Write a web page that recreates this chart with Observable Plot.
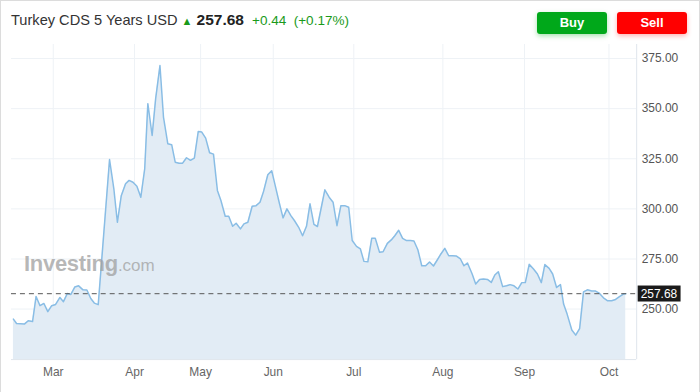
<!DOCTYPE html>
<html>
<head>
<meta charset="utf-8">
<script src="https://cdn.jsdelivr.net/npm/d3@7"></script>
<script src="https://cdn.jsdelivr.net/npm/@observablehq/plot@0.6"></script>
<style>
  html, body { margin: 0; padding: 0; background: #fff; }
  #wrap { position: relative; width: 700px; height: 392px; box-sizing: border-box;
          border: 1px solid #dcdcdc; border-bottom: none; overflow: hidden;
          font-family: "Liberation Sans", Arial, sans-serif; }
  #header { position: absolute; left: 0; top: 0; width: 700px; height: 44px; }
  #title { position: absolute; left: 10px; top: 10px; font-size: 14.6px; color: #333; white-space: nowrap; }
  #title .last { font-weight: bold; color: #222; font-size: 15.5px; }
  #title .chg { color: #1a9a1a; font-size: 13.5px; }
  #title .arrow { color: #1a9a1a; font-size: 11px; }
  .btn { position: absolute; top: 11px; height: 22px; width: 70px; border-radius: 3px; color: #fff;
         font-weight: bold; font-size: 13px; text-align: center; line-height: 22px; }
  #buy { left: 536px; background: #00a81a; box-shadow: 0 2px 5px rgba(0,168,26,0.35); }
  #sell { left: 616px; background: #ff0000; box-shadow: 0 2px 5px rgba(255,0,0,0.3); }
  #chart { position: absolute; left: -1px; top: 43px; }
  #wm { position: absolute; left: 23px; top: 250px; color: rgba(160,160,160,0.75); white-space: nowrap; }
  #wm .a { font-size: 22px; font-weight: bold; letter-spacing: -0.3px; }
  #wm .b { font-size: 17px; }
</style>
</head>
<body>
<div id="wrap">
  <div id="header">
    <div id="title">Turkey CDS 5 Years USD <span class="arrow">&#9650;</span> <span class="last">257.68</span>&nbsp; <span class="chg">+0.44&nbsp; (+0.17%)</span></div>
    <div class="btn" id="buy">Buy</div>
    <div class="btn" id="sell">Sell</div>
  </div>
  <div id="chart"></div>
  <div id="wm"><span class="a">Investing</span><span class="b">.com</span></div>
</div>
<script>
const sessions = [0,0.8,2.8,3.8,4.9,5.8,6.8,7.8,8.8,9.8,10.8,11.9,12.8,13.8,14.7,15.7,16.7,17.8,18.8,19.8,20.7,21.7,
  24.6,25.7,26.6,27.6,28.7,29.6,30.6,31.6,32.6,33.6,34.4,35.5,36.4,37.5,38.4,39.5,40.5,41.4,42.4,43.3,44.3,45.3,46.3,
  47.3,48.2,49.2,50.2,51.2,52.2,53.1,54.2,55.1,56.1,57.0,58.1,59.0,60.0,61.1,62.1,63.1,64.0,65.1,66.1,67.0,68.0,69.0,
  70.0,71.0,71.9,73.0,74.0,75.0,75.9,76.9,77.8,78.8,79.7,80.8,81.8,82.8,83.8,84.8,85.8,86.7,87.8,88.8,89.7,90.7,91.7,
  92.6,93.7,94.6,95.7,96.7,97.6,98.6,99.6,100.6,101.6,102.5,103.5,104.5,105.5,106.5,107.5,108.5,109.4,110.4,111.4,
  112.4,113.3,114.4,115.3,116.2,117.4,118.3,119.3,120.3,121.3,122.3,123.2,124.1,125.2,126.2,127.1,128.1,129.1,130.1,
  131.0,132.0,133.1,134.1,135.1,136.0,137.1,138.0,139.0,140.0,140.8,141.7,142.9,143.9,144.9,145.9,146.9,148.0,149.0,
  150.0,151.0,152.0,153.1,154.1,155.1,156.1,156.7];
const cds = [245.0,242.8,242.5,244.2,243.8,256.3,251.7,252.8,248.7,251.7,252.3,255.8,253.7,257.8,257.3,261.0,261.6,259.6,259.5,255.3,253.0,252.2,
  324.6,310.0,293.3,306.6,312.5,314.2,313.3,311.3,305.8,320.0,352.5,336.6,355.0,371.5,345.8,332.5,332.0,323.3,322.8,322.8,325.5,324.2,325.3,
  338.6,338.3,335.3,328.0,327.3,309.2,304.2,296.3,296.3,291.3,292.8,290.0,292.5,293.3,301.3,301.6,303.3,308.6,317.0,319.0,311.6,303.3,295.5,
  300.0,296.6,294.2,290.8,286.6,291.3,302.5,292.3,291.2,300.8,309.5,305.8,303.3,291.6,301.6,301.6,300.8,284.2,281.3,280.0,273.8,273.6,285.3,
  285.3,278.3,278.6,282.8,284.5,286.6,289.3,285.3,284.2,284.2,284.0,279.6,271.6,271.6,273.5,271.5,274.6,277.5,280.3,276.6,
  276.6,276.5,275.0,271.6,273.0,267.5,262.5,264.8,265.0,264.8,263.3,267.0,268.6,261.2,261.6,262.2,261.6,260.0,263.2,
  263.2,272.3,270.0,267.5,263.2,272.2,270.3,267.5,260.8,262.2,252.5,247.5,239.6,237.0,240.3,258.6,259.6,259.0,259.0,
  257.8,255.6,254.2,254.2,254.8,256.2,257.5,257.68];
const monthTicks = [10.2, 31.0, 47.9, 66.5, 87.1, 109.9, 130.8, 152.4];
const monthLabels = ["Mar", "Apr", "May", "Jun", "Jul", "Aug", "Sep", "Oct"];
const yTicks = [250, 275, 300, 325, 350, 375];
const lastPrice = 257.68;

const n = Math.min(sessions.length, cds.length);
const data = d3.range(n).map(i => ({s: sessions[i], v: cds[i]}));
const xDomain = [-0.5, 159.5];
const yDomain = [224.8, 382];
const labelOf = new Map(monthTicks.map((t, i) => [t, monthLabels[i]]));

const chart = Plot.plot({
  width: 701, height: 349,
  marginTop: 0, marginBottom: 33, marginLeft: 11, marginRight: 63,
  style: {fontFamily: '"Liberation Sans", Arial, sans-serif', fontSize: "12px", color: "#555", background: "transparent", overflow: "visible"},
  x: {domain: xDomain},
  y: {domain: yDomain},
  marks: [
    Plot.gridY(yTicks, {stroke: "#eef2f6", strokeOpacity: 1}),
    Plot.gridX(monthTicks, {stroke: "#eef2f6", strokeOpacity: 1}),
    Plot.areaY(data, {x: "s", y1: yDomain[0], y2: "v", fill: "#e2ecf5", fillOpacity: 1}),
    Plot.lineY(data, {x: "s", y: "v", stroke: "#89bde5", strokeWidth: 1.5}),
    Plot.ruleY([lastPrice], {stroke: "#555", strokeDasharray: "5,4", strokeWidth: 1}),
    Plot.ruleX([xDomain[1]], {stroke: "#dfe5ec"}),
    Plot.ruleY([yDomain[0]], {stroke: "#dfe5ec"}),
    Plot.axisY(yTicks, {anchor: "right", tickSize: 0, tickPadding: 5, tickFormat: d => d.toFixed(2), fill: "#555", label: null}),
    Plot.axisX(monthTicks, {anchor: "bottom", tickSize: 0, tickPadding: 8, tickFormat: d => labelOf.get(d), fill: "#666", label: null}),
    Plot.text([lastPrice], {x: xDomain[1], y: d => d, text: d => d.toFixed(2), textAnchor: "start", dx: 4, fill: "#fff", fontSize: 12})
  ]
});
document.getElementById("chart").appendChild(chart);

// dark box behind the last-price label
const groups = chart.querySelectorAll('g[aria-label="text"]');
const tg = groups[groups.length - 1];
const t = tg.querySelector("text");
const bb = t.getBBox();
const ns = "http://www.w3.org/2000/svg";
const r = document.createElementNS(ns, "rect");
r.setAttribute("x", bb.x - 3);
r.setAttribute("y", bb.y - 1);
r.setAttribute("width", bb.width + 6);
r.setAttribute("height", bb.height + 2);
r.setAttribute("fill", "#1a1a1a");
const tr = t.getAttribute("transform");
if (tr) r.setAttribute("transform", tr);
t.parentNode.insertBefore(r, t);
</script>
</body>
</html>
